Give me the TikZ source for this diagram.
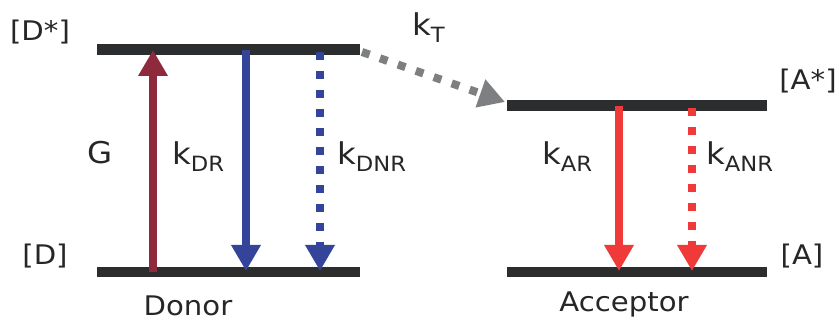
\documentclass[tikz,border=0pt]{standalone}
\usepackage{fontspec}
\setmainfont[FakeStretch=1.08]{DejaVu Sans}
\usetikzlibrary{arrows.meta}
\begin{document}
\begin{tikzpicture}[x=1pt,y=-1pt,
    lbl/.style={font=\fontsize{27}{30}\selectfont,text=black!85,inner sep=0pt,anchor=base},
    statelbl/.style={lbl,font=\fontsize{27}{30}\selectfont},
    ratelbl/.style={lbl,font=\fontsize{30}{33}\selectfont,anchor=base west},
    rate/.style={line width=8pt,-{Triangle[width=28pt,length=26pt]}},
    dots/.style={dash pattern=on 8pt off 11pt}]
  \definecolor{levelgray}{HTML}{2B2D2E}
  \definecolor{genred}{HTML}{8E2A3C}
  \definecolor{donblue}{HTML}{34449A}
  \definecolor{accred}{HTML}{F03A3A}
  \definecolor{transgray}{HTML}{7E7F80}
  \useasboundingbox (0,0) rectangle (839,326);

  % energy levels
  \fill[levelgray] (97,44) rectangle (360,55);
  \fill[levelgray] (97,267) rectangle (360,277);
  \fill[levelgray] (507,100) rectangle (767,111);
  \fill[levelgray] (507,267) rectangle (767,277);

  % end points of the transitions
  \coordinate (g-bot) at (153,272);
  \coordinate (g-top) at (153,50);
  \coordinate (dr-top) at (246,50);
  \coordinate (dr-bot) at (246,271);
  \coordinate (dnr-top) at (320,52);
  \coordinate (dnr-bot) at (320,271);
  \coordinate (t-start) at (362,52);
  \coordinate (t-end) at (505,102);
  \coordinate (ar-top) at (619,106);
  \coordinate (ar-bot) at (619,271);
  \coordinate (anr-top) at (692,108);
  \coordinate (anr-bot) at (692,271);

  % Donor
  \draw[rate,genred] (g-bot) -- (g-top);
  \draw[rate,donblue] (dr-top) -- (dr-bot);
  \draw[rate,dots,donblue] (dnr-top) -- (dnr-bot);
  % transfer
  \draw[rate,dots,transgray] (t-start) -- (t-end);
  % Acceptor
  \draw[rate,accred] (ar-top) -- (ar-bot);
  \draw[rate,dots,accred] (anr-top) -- (anr-bot);

  % labels
  \node[statelbl] (dstar) at (40,41) {[D*]};
  \node[statelbl] (dground) at (45,265) {[D]};
  \node[statelbl] (astar) at (808,90) {[A*]};
  \node[statelbl] (aground) at (802,265) {[A]};
  \node[statelbl,font=\fontsize{30}{33}\selectfont] (gen) at (100,164) {G};
  \node[ratelbl] (kdr) at (172,165) {k\textsubscript{DR}};
  \node[ratelbl] (kdnr) at (337,165) {k\textsubscript{DNR}};
  \node[ratelbl] (kt) at (412,36) {k\textsubscript{T}};
  \node[ratelbl] (kar) at (542,165) {k\textsubscript{AR}};
  \node[ratelbl] (kanr) at (706,165) {k\textsubscript{ANR}};
  \node[lbl] (donor) at (188,315) {Donor};
  \node[lbl] (acceptor) at (624,312) {Acceptor};
\end{tikzpicture}
\end{document}
